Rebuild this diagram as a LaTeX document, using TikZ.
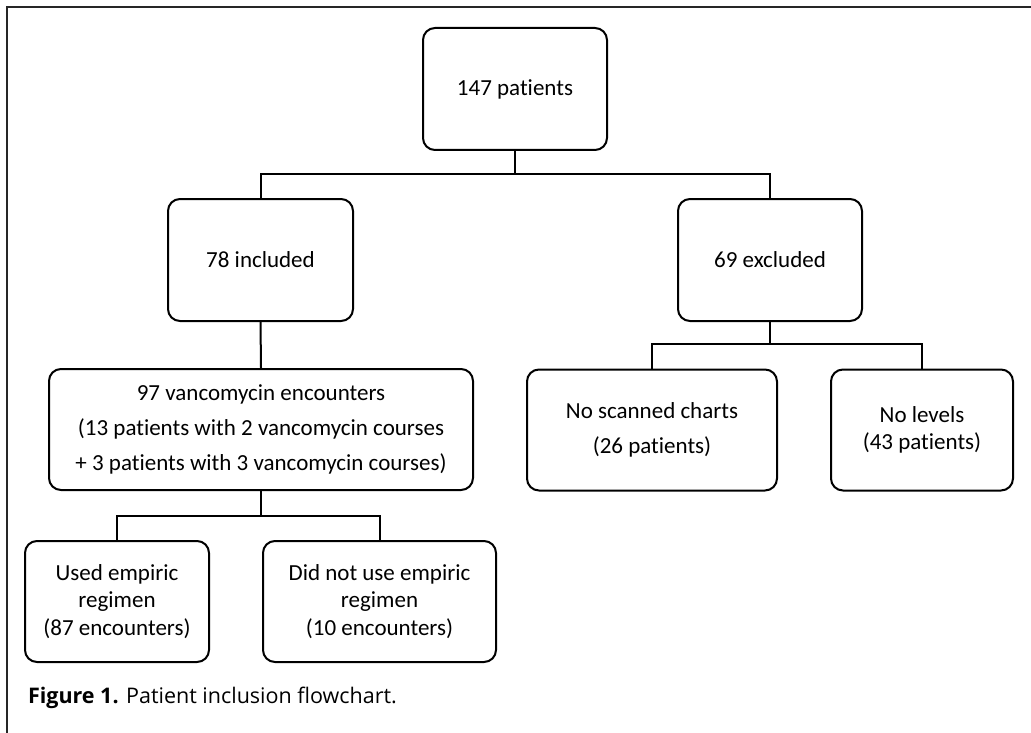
\documentclass[tikz,border=0pt]{standalone}
\usepackage{fontspec}
\setmainfont{Carlito}[Ligatures=NoCommon]
\newfontfamily\capfont{Open Sans}
\usetikzlibrary{calc}

\begin{document}
\begin{tikzpicture}[x=1pt, y=-1pt, line width=2pt,
  box/.style = {draw, rounded corners=12pt, align=center, inner sep=0pt,
                font=\fontsize{23}{27.5}\selectfont}]
  \useasboundingbox (0,0) rectangle (1031,733);
  \draw[line width=2.2pt, black!85] (7,733) -- (7,7) -- (1031,7);
  \node[box, minimum width=184pt, minimum height=122pt] (0) at (515,89) {147 patients};
  \node[box, minimum width=185pt, minimum height=122pt] (1) at (260.5,260) {78 included};
  \node[box, minimum width=184pt, minimum height=122pt] (2) at (770,260) {69 excluded};
  \node[box, minimum width=424pt, minimum height=121pt] (3) at (261,429.5)
    {97 vancomycin encounters\\[7.5pt] (13 patients with 2 vancomycin courses\\[7.5pt] + 3 patients with 3 vancomycin courses)};
  \node[box, minimum width=250pt, minimum height=121pt] (4) at (652,430) {No scanned charts\\[8pt] (26 patients)};
  \node[box, minimum width=182pt, minimum height=121pt] (5) at (922,430) {No levels\\ (43 patients)};
  \node[box, minimum width=184pt, minimum height=121pt] (6) at (117,601.5) {Used empiric\\ regimen\\ (87 encounters)};
  \node[box, minimum width=233pt, minimum height=121pt] (7) at (379.5,601.5) {Did not use empiric\\ regimen\\ (10 encounters)};
  \coordinate (a) at (515,174);
  \coordinate (b) at (770,344);
  \coordinate (c) at (261,516);
  \draw (0.south) -- (a);
  \draw (1.north) |- (a) -| (2.north);
  \draw (1.south) -- (3.north);
  \draw (2.south) -- (b);
  \draw (4.north) |- (b) -| (5.north);
  \draw (3.south) -- (c);
  \draw (6.north) |- (c) -| (7.north);
  \node[anchor=base west, inner sep=0pt, font=\capfont\fontsize{21.5}{24}\selectfont] (8) at (27,703)
    {\textbf{Figure 1.} Patient inclusion flowchart.};
\end{tikzpicture}
\end{document}
